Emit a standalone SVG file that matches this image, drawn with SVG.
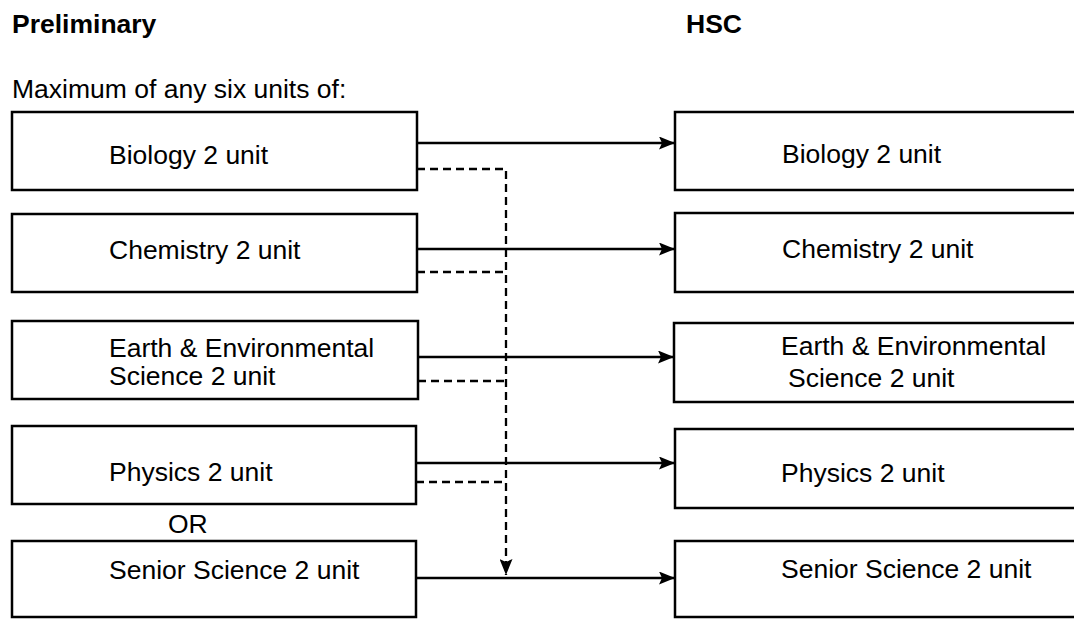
<svg xmlns="http://www.w3.org/2000/svg" width="1074" height="619" viewBox="0 0 1074 619">
<style>
text{font-family:"Liberation Sans",Arial,sans-serif;font-size:26.5px;fill:#000}
.b{font-weight:bold}
.box{fill:#fff;stroke:#000;stroke-width:2.5}
.solid{stroke:#000;stroke-width:2.3;fill:none}
.dash{stroke:#000;stroke-width:2.3;fill:none;stroke-dasharray:8 5}
</style>
<defs>
<marker id="ah" markerWidth="16" markerHeight="13" refX="16" refY="6.5" orient="auto" markerUnits="userSpaceOnUse">
<path d="M0,0 L16,6.5 L0,13 L3,6.5 Z" fill="#000"/>
</marker>
</defs>
<rect width="1074" height="619" fill="#fff"/>
<text class="b" x="12" y="33">Preliminary</text>
<text class="b" x="686" y="33">HSC</text>
<text x="12" y="98">Maximum of any six units of:</text>
<text x="168" y="533">OR</text>

<g id="connectors">
<line class="solid" x1="417" y1="143" x2="675" y2="143" marker-end="url(#ah)"/>
<line class="solid" x1="417" y1="249" x2="675" y2="249" marker-end="url(#ah)"/>
<line class="solid" x1="418" y1="357" x2="674" y2="357" marker-end="url(#ah)"/>
<line class="solid" x1="416" y1="463" x2="675" y2="463" marker-end="url(#ah)"/>
<line class="solid" x1="416" y1="578" x2="675" y2="578" marker-end="url(#ah)"/>
<polyline class="dash" points="417,169 506,169 506,575" marker-end="url(#ah)"/>
<polyline class="dash" points="417,272 506,272"/>
<polyline class="dash" points="418,381 506,381"/>
<polyline class="dash" points="416,482 506,482"/>
</g>

<g id="p-bio"><rect class="box" x="12" y="112" width="405" height="78"/><text x="109" y="164">Biology 2 unit</text></g>
<g id="p-chem"><rect class="box" x="12" y="214" width="405" height="78"/><text x="109" y="259">Chemistry 2 unit</text></g>
<g id="p-earth"><rect class="box" x="12" y="321" width="406" height="78"/><text x="109" y="357">Earth &amp; Environmental</text><text x="109" y="385">Science 2 unit</text></g>
<g id="p-phys"><rect class="box" x="12" y="426" width="404" height="78"/><text x="109" y="481">Physics 2 unit</text></g>
<g id="p-senior"><rect class="box" x="12" y="541" width="404" height="76"/><text x="109" y="579">Senior Science 2 unit</text></g>

<g id="h-bio"><rect class="box" x="675" y="112" width="420" height="78"/><text x="782" y="163">Biology 2 unit</text></g>
<g id="h-chem"><rect class="box" x="675" y="213" width="420" height="79"/><text x="782" y="258">Chemistry 2 unit</text></g>
<g id="h-earth"><rect class="box" x="674" y="323" width="420" height="79"/><text x="781" y="355">Earth &amp; Environmental</text><text x="788" y="387">Science 2 unit</text></g>
<g id="h-phys"><rect class="box" x="675" y="429" width="420" height="79"/><text x="781" y="482">Physics 2 unit</text></g>
<g id="h-senior"><rect class="box" x="675" y="541" width="420" height="76"/><text x="781" y="578">Senior Science 2 unit</text></g>
</svg>
